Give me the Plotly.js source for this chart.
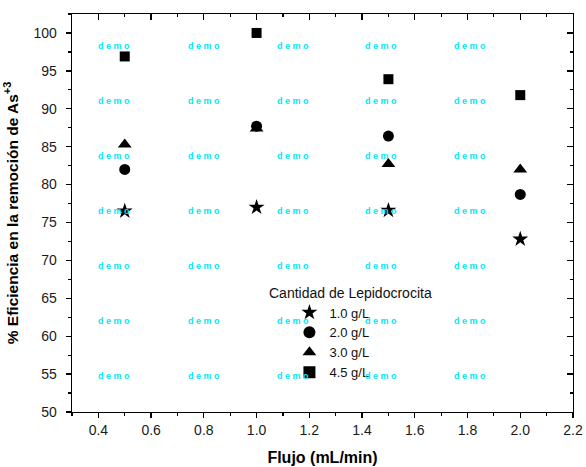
<!DOCTYPE html>
<html><head><meta charset="utf-8">
<script src="https://cdn.plot.ly/plotly-3.0.1.min.js"></script>
<style>body{margin:0;padding:0;background:#fff}#chart{width:586px;height:467px}</style>
</head><body><div id="chart"></div>
<script>
const flujo = [0.5, 1.0, 1.5, 2.0];
const seriesNames = ['1.0 g/L', '2.0 g/L', '3.0 g/L', '4.5 g/L'];
const s10 = [76.5, 77.0, 76.6, 72.8];
const s20 = [82.0, 87.7, 86.4, 78.7];
const s30 = [85.3, 87.4, 82.7, 82.0];
const s45 = [96.9, 100.0, 93.9, 91.8];
const legendTitle = 'Cantidad de Lepidocrocita';
const symbols = ['star', 'circle', 'triangle-up', 'square'];
const sizes = [12, 11, 12, 10];
const values = [s10, s20, s30, s45];

const demoX = [0.0848, 0.2629, 0.4407, 0.6166, 0.7938];
const demoY = [0.9196, 0.7814, 0.6432, 0.505, 0.3668, 0.2286, 0.0905];

const traces = values.map((v, i) => ({
  x: flujo, y: v, type: 'scatter', mode: 'markers', name: seriesNames[i],
  marker: {symbol: symbols[i], size: sizes[i], color: '#000'}
}));
traces.push({x: [0.3], y: [50], xaxis: 'x2', yaxis: 'y2', mode: 'markers',
  marker: {opacity: 0}, showlegend: false, hoverinfo: 'skip'});

const ff = 'Liberation Sans, Arial, sans-serif';
const annotations = [];
demoY.forEach(yy => demoX.forEach(xx => annotations.push({
  xref: 'paper', yref: 'paper', x: xx, y: yy, xanchor: 'center', yanchor: 'middle',
  text: '<b>d e m o</b>', showarrow: false,
  font: {family: ff, size: 9, color: '#00e8f5'}
})));
annotations.push({xref: 'paper', yref: 'paper', x: 0.39, y: 0.2985, xanchor: 'left', yanchor: 'middle',
  text: legendTitle, showarrow: false, font: {family: ff, size: 14, color: '#111'}});

const font = {family: ff, size: 14, color: '#1a1a1a'};
const axBase = {showgrid: false, zeroline: false, showline: true, linecolor: '#000', linewidth: 1.4,
  tickcolor: '#000', ticklen: 5, tickwidth: 1.3, tickfont: font};
const layout = {
  width: 586, height: 467,
  margin: {l: 72, r: 13, t: 14, b: 55},
  paper_bgcolor: '#fff', plot_bgcolor: '#fff',
  font: font,
  showlegend: true,
  legend: {x: 0.434, y: 0.2877, xanchor: 'left', yanchor: 'top', bgcolor: 'rgba(0,0,0,0)',
    font: {family: ff, size: 13, color: '#111'}, itemsizing: 'constant'},
  xaxis: Object.assign({}, axBase, {range: [0.3, 2.2], dtick: 0.2, tick0: 0.4, ticks: 'outside', tickformat: '.1f',
    minor: {dtick: 0.1, ticks: 'outside', ticklen: 3, tickcolor: '#000', tickwidth: 1.2},
    title: {text: '<b>Flujo (mL/min)</b>', font: {family: ff, size: 16, color: '#000'}, standoff: 14}}),
  yaxis: Object.assign({}, axBase, {range: [50, 102.5], dtick: 5, tick0: 50, ticks: 'outside', ticklabelstandoff: 6,
    minor: {dtick: 2.5, ticks: 'outside', ticklen: 3, tickcolor: '#000', tickwidth: 1.2},
    title: {text: '<b>% Eficiencia en la remoción de As<sup>+3</sup></b>', font: {family: ff, size: 15.5, color: '#000'}, standoff: 11}}),
  xaxis2: Object.assign({}, axBase, {overlaying: 'x', side: 'top', range: [0.3, 2.2], dtick: 0.2, tick0: 0.4, ticklen: 6,
    ticks: 'inside', showticklabels: false, minor: {dtick: 0.1, ticks: 'inside', ticklen: 3, tickcolor: '#000', tickwidth: 1.2}}),
  yaxis2: Object.assign({}, axBase, {overlaying: 'y', side: 'right', range: [50, 102.5], dtick: 5, tick0: 50, ticklen: 6,
    ticks: 'inside', showticklabels: false, minor: {dtick: 2.5, ticks: 'inside', ticklen: 3, tickcolor: '#000', tickwidth: 1.2}}),
  annotations: annotations
};
Plotly.newPlot('chart', traces, layout, {displayModeBar: false, staticPlot: true});
</script></body></html>
